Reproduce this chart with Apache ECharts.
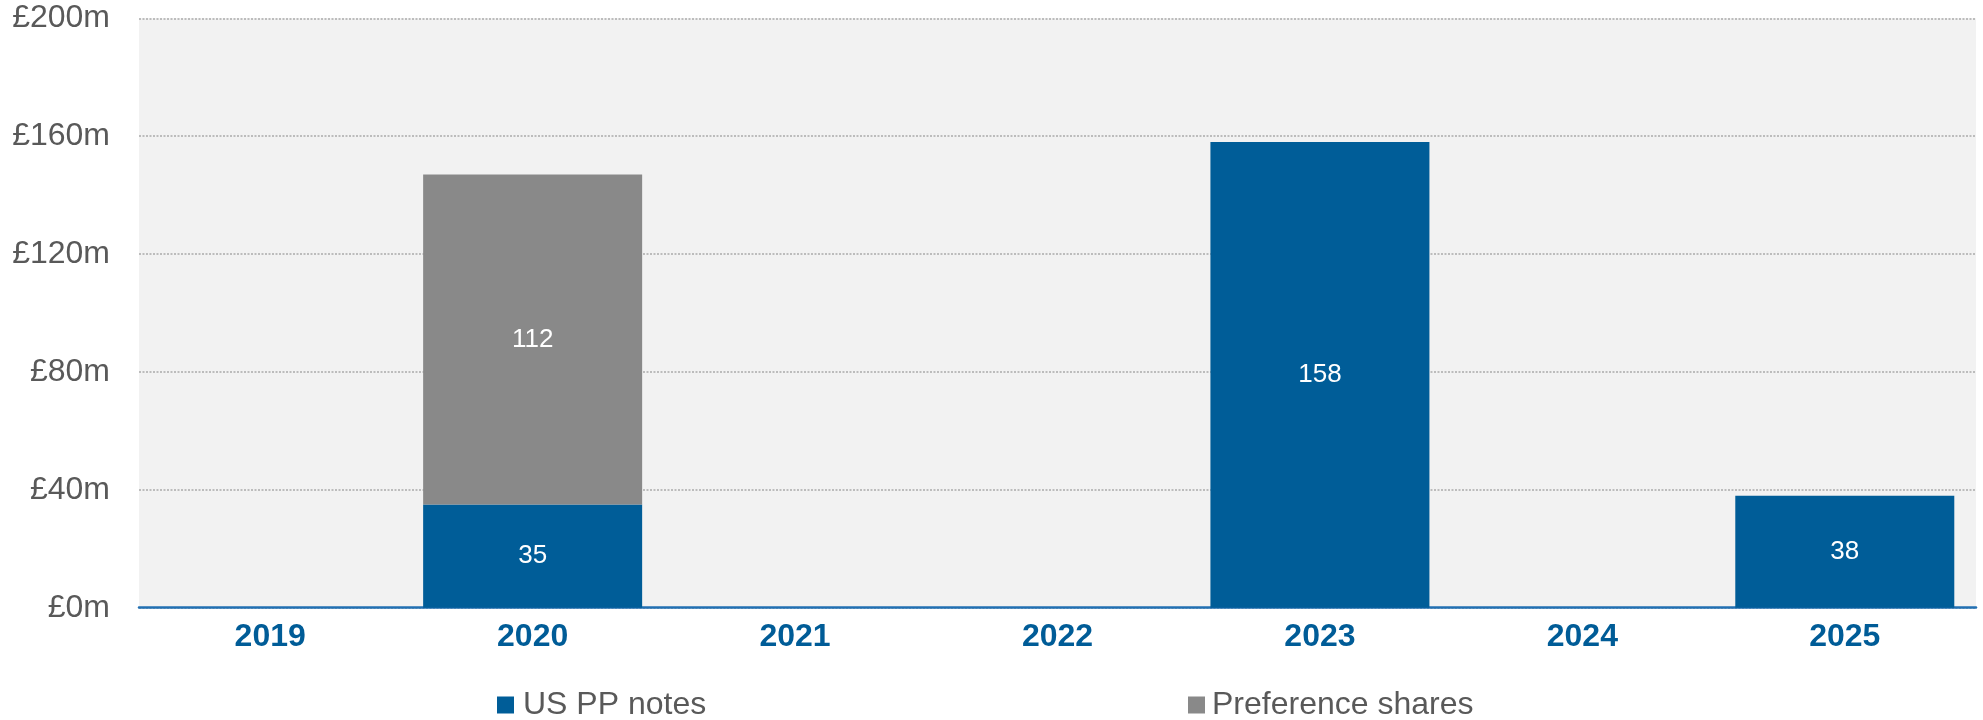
<!DOCTYPE html>
<html>
<head>
<meta charset="utf-8">
<script src="https://cdn.jsdelivr.net/npm/echarts@6/dist/echarts.min.js"></script>
<style>
html,body{margin:0;padding:0;background:#ffffff;}
#chart{width:1983px;height:720px;}
</style>
</head>
<body>
<div id="chart"></div>
<script>
var years = ['2019', '2020', '2021', '2022', '2023', '2024', '2025'];
var usPPNotes = [null, 35, null, null, 158, null, 38];
var preferenceShares = [null, 112, null, null, null, null, null];
var yTicks = [0, 40, 80, 120, 160, 200];

var FONT = '"Liberation Sans", Arial, sans-serif';
var chart = echarts.init(document.getElementById('chart'), null, {renderer: 'canvas'});

chart.setOption({
  animation: false,
  backgroundColor: '#ffffff',
  textStyle: {fontFamily: FONT},
  grid: {
    left: 139, right: 7, top: 18.3, bottom: 112.3,
    show: true, backgroundColor: '#f2f2f2', borderWidth: 0, containLabel: false
  },
  legend: [
    {
      data: ['US PP notes'], left: 497, top: 689, padding: 0,
      itemWidth: 17, itemHeight: 17, icon: 'rect',
      textStyle: {fontFamily: FONT, fontSize: 32, color: '#595959', padding: [0, 0, 0, 4]}
    },
    {
      data: ['Preference shares'], left: 1188, top: 689, padding: 0,
      itemWidth: 17, itemHeight: 17, icon: 'rect',
      textStyle: {fontFamily: FONT, fontSize: 32, color: '#595959', padding: [0, 0, 0, 2]}
    }
  ],
  xAxis: {
    type: 'category',
    data: years,
    axisLine: {show: true, lineStyle: {color: '#2270b3', width: 2.5}},
    axisTick: {show: false},
    axisLabel: {fontFamily: FONT, fontSize: 32, fontWeight: 'bold', color: '#005c97', margin: 13}
  },
  yAxis: {
    type: 'value',
    min: yTicks[0], max: yTicks[yTicks.length - 1], interval: 40,
    axisLine: {show: false},
    axisTick: {show: false},
    axisLabel: {
      fontFamily: FONT, fontSize: 32, color: '#595959', margin: 29,
      formatter: function (v) { return '£' + v + 'm'; }
    },
    splitLine: {show: true, lineStyle: {color: '#aaaaaa', width: 1.5, type: [2, 1.5]}}
  },
  series: [
    {
      name: 'US PP notes', type: 'bar', stack: 'total', barWidth: 219,
      data: usPPNotes,
      itemStyle: {color: '#005d98'},
      label: {show: true, position: 'inside', color: '#ffffff', fontFamily: FONT, fontSize: 26}
    },
    {
      name: 'Preference shares', type: 'bar', stack: 'total', barWidth: 219,
      data: preferenceShares,
      itemStyle: {color: '#898989'},
      label: {show: true, position: 'inside', color: '#ffffff', fontFamily: FONT, fontSize: 26}
    }
  ]
});
</script>
</body>
</html>
